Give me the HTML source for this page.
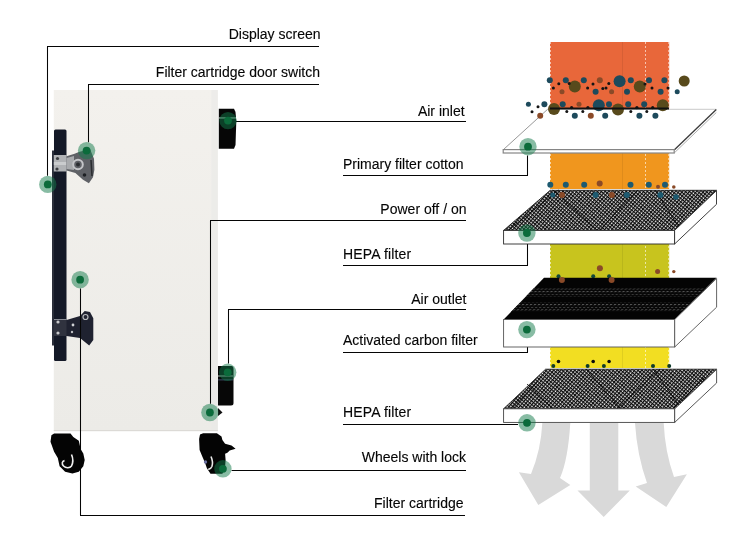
<!DOCTYPE html>
<html><head><meta charset="utf-8">
<style>
html,body{margin:0;padding:0;background:#fff;}
body{width:750px;height:548px;overflow:hidden;position:relative;}
svg{position:absolute;left:0;top:0;will-change:transform;}
text{font-family:"Liberation Sans",sans-serif;font-size:14px;fill:#050505;stroke:#050505;stroke-width:0.12px;}
</style></head><body>
<svg width="750" height="548" viewBox="0 0 750 548">
<defs>
  <pattern id="mesh" patternUnits="userSpaceOnUse" width="2.7" height="2.7" patternTransform="rotate(40)">
    <rect width="2.7" height="2.7" fill="#f4f4f4"/>
    <rect x="0" y="0" width="1.2" height="2.7" fill="#0c0c0c"/>
    <rect x="0" y="0" width="2.7" height="1.2" fill="#0c0c0c"/>
  </pattern>
  <pattern id="carbon" patternUnits="userSpaceOnUse" width="3" height="3">
    <rect width="3" height="3" fill="#030303"/>
    <rect x="0" y="0" width="1" height="1" fill="#2a2a2a"/>
  </pattern>
  <pattern id="dash" patternUnits="userSpaceOnUse" width="4" height="2.6" patternTransform="skewX(-44)">
    <rect width="4" height="2.6" fill="#070707"/>
    <rect x="0" y="0" width="2.2" height="0.9" fill="#555"/>
  </pattern>
  <linearGradient id="cab" x1="0" y1="0" x2="0" y2="1">
    <stop offset="0" stop-color="#f3f1ed"/>
    <stop offset="1" stop-color="#ecebe7"/>
  </linearGradient>
</defs>

<!-- ===== Cabinet ===== -->
<rect x="53.8" y="90" width="164" height="341" fill="url(#cab)"/>
<rect x="211.5" y="90" width="6.3" height="341" fill="#e9e9e8" opacity="0.6"/>
<rect x="53.8" y="430" width="164" height="1.2" fill="#dcdad6"/>
<!-- handle -->
<rect x="52" y="150.5" width="2.5" height="195" fill="#2a2e3a"/>
<rect x="54" y="129.5" width="12.5" height="231.5" rx="1.5" fill="#141927"/>
<!-- top hinge -->
<rect x="53.8" y="155" width="13" height="16.5" fill="#b0b2b5"/>
<rect x="53.8" y="162" width="13" height="3" fill="#d6d7d9" opacity="0.7"/>
<circle cx="57.5" cy="158.5" r="1.6" fill="#3a3c40"/>
<circle cx="57" cy="169" r="1.6" fill="#3a3c40"/>
<path d="M66.5 156.3 L74.6 153.8 L78.8 152 L90 149 L94 158.8 L94.4 169.7 L93 177.3 L88.9 183.2 L83 179.8 L75.4 173.1 L66.5 170.6 Z" fill="#5f6166"/>
<path d="M66.5 158 L74 156 L74 170 L66.5 169 Z" fill="#a8aaad"/>
<circle cx="78" cy="164.5" r="4.8" fill="none" stroke="#c4c5c8" stroke-width="2"/>
<circle cx="78" cy="164.5" r="2" fill="#2a2c30"/>
<circle cx="84.5" cy="175" r="1.8" fill="#1e2024"/>
<path d="M91 160 L92 176" stroke="#2a2c30" stroke-width="1.5"/>
<!-- bottom hinge -->
<rect x="54" y="319" width="13" height="17" fill="#30333f"/>
<rect x="54" y="319" width="13" height="1" fill="#8a8d95"/>
<circle cx="58" cy="322" r="1.6" fill="#c8c9cc"/>
<circle cx="58" cy="333" r="1.6" fill="#c8c9cc"/>
<path d="M66.5 320 L80 316 L84.7 311 L90 312 L93.3 318.2 L93.3 340 L89.2 345.6 L80 338 L66.5 336 Z" fill="#1f2230"/>
<circle cx="85.5" cy="317" r="2.5" fill="none" stroke="#b8babd" stroke-width="1.2"/>
<circle cx="73" cy="325" r="1.4" fill="#d0d2d5"/>
<circle cx="72" cy="332" r="1.2" fill="#c0c2c5"/>
<!-- knobs -->
<path d="M218.8 108.8 L234 108.8 L235.5 112 L236.3 121 L235.5 145 L234 148.7 L218.8 148.7 Z" fill="#060606"/>
<rect x="219" y="117.4" width="17" height="1.1" fill="#cfe8dc" opacity="0.85"/>
<path d="M218 366 h13.5 q2 0 2 3 v34 q0 2.5 -2.5 2.5 h-13 z" fill="#070707"/>
<rect x="218" y="375.5" width="15" height="1" fill="#d8e8e0" opacity="0.8"/>
<rect x="218" y="379.5" width="15" height="0.8" fill="#6070a0" opacity="0.8"/>
<path d="M218 408 L222.5 412.5 L218 416 Z" fill="#111"/>
<!-- wheels -->
<path d="M51.4 435.3 L54.1 433.5 L70.5 433.5 L73.3 437.1 L78.8 440.8 L80.6 449 L83.3 453.5 L84.7 460 L83.3 466.3 L78.8 471.8 L72.4 473.6 L65.1 471.8 L59.6 466.3 L57.8 458.1 L54.1 451.7 L50.5 441.7 Z" fill="#040404"/>
<path d="M71.5 454.5 C73 458 73 463 71.5 466 C70 468 66 468.5 63.5 466 C61.5 464 62 461 64.5 460.6" fill="none" stroke="#f0f0f0" stroke-width="1.6"/>
<path d="M200 434.6 L203.2 433.2 L216.9 433.2 L221.5 436.4 L222.4 440 L225.1 443.7 L231.5 445.5 L235.6 448.7 L229.7 450.5 L227.4 452.8 L225.1 453.7 L225.6 460.1 L225 468 L222.4 473.8 L210.5 473.8 L206.9 468.3 L205 462.8 L202.3 456.5 L199.6 450 L199.1 439.1 Z" fill="#040404"/>
<path d="M211 456.5 C212.5 460 212.8 464 211.9 466.5 C211 468.5 209.5 469.3 208.2 469" fill="none" stroke="#e8e8e8" stroke-width="1.6"/>
<circle cx="205.5" cy="462" r="1.7" fill="#6a70a0"/>

<!-- ===== Leader lines ===== -->
<g stroke="#050505" stroke-width="1.05" fill="none">
  <polyline points="319,46.5 47.5,46.5 47.5,175.8"/>
  <polyline points="319,84.5 88.5,84.5 88.5,142.2"/>
  <polyline points="466,121.5 236,121.5"/>
  <polyline points="343,175.5 527.5,175.5 527.5,155.4"/>
  <polyline points="466,220.5 210.5,220.5 210.5,403.8"/>
  <polyline points="343,265.5 527.5,265.5 527.5,241.7"/>
  <polyline points="466,309.5 228.5,309.5 228.5,363.6"/>
  <polyline points="343,352.5 527.5,352.5 527.5,338.3"/>
  <polyline points="343,424.5 518,424.5"/>
  <polyline points="466,470.5 231.6,470.5"/>
  <polyline points="465,515.5 80.5,515.5 80.5,288.4"/>
</g>
<!-- ===== Labels ===== -->
<g>
  <text x="320.5" y="38.9" text-anchor="end">Display screen</text>
  <text x="320" y="77" text-anchor="end">Filter cartridge door switch</text>
  <text x="464.6" y="116.3" text-anchor="end">Air inlet</text>
  <text x="343" y="169">Primary filter cotton</text>
  <text x="466.5" y="214" text-anchor="end">Power off / on</text>
  <text x="343" y="259" letter-spacing="0.15">HEPA filter</text>
  <text x="466.5" y="304" text-anchor="end">Air outlet</text>
  <text x="343" y="345">Activated carbon filter</text>
  <text x="343" y="417" letter-spacing="0.15">HEPA filter</text>
  <text x="466" y="462" text-anchor="end">Wheels with lock</text>
  <text x="463.5" y="507.8" text-anchor="end">Filter cartridge</text>
</g>

<!-- ===== Filter stack ===== -->
<rect x="550" y="42" width="119.2" height="66.5" fill="#e8673a"/>
<rect x="550" y="153" width="119.2" height="36" fill="#f0961e"/>
<rect x="550" y="244" width="119.2" height="34" fill="#c8c41e"/>
<rect x="550" y="347" width="119.2" height="21" fill="#f2de22"/>
<g stroke="#fff" stroke-width="0.8" stroke-dasharray="2 2" opacity="0.75">
  <line x1="550.5" y1="42" x2="550.5" y2="368"/>
  <line x1="645.5" y1="42" x2="645.5" y2="368"/>
  <line x1="668.7" y1="42" x2="668.7" y2="368"/>
</g>
<line x1="622.5" y1="42" x2="622.5" y2="368" stroke="#000" stroke-width="0.7" opacity="0.1"/>

<!-- plate 1: primary filter -->
<polygon points="503.2,149.5 547.6,109.3 716.3,109.3 674.2,149.5" fill="#fff"/>
<line x1="547.6" y1="109.3" x2="716.3" y2="109.3" stroke="#c4c4c4" stroke-width="0.9"/>
<line x1="503.2" y1="149.8" x2="547.6" y2="109.3" stroke="#8c8c8c" stroke-width="0.9"/>
<line x1="674.2" y1="150" x2="716.3" y2="109.5" stroke="#3a3a3a" stroke-width="1.3"/>
<line x1="674.2" y1="153" x2="716.3" y2="112.5" stroke="#9a9a9a" stroke-width="0.8"/>
<rect x="503.2" y="149.6" width="171" height="3.4" fill="#fff" stroke="#858585" stroke-width="1.2"/>
<!-- particles inlet -->
<g>
  <g fill="#1d4a5c">
    <circle cx="549.8" cy="80.2" r="3"/><circle cx="565.8" cy="80.2" r="3"/><circle cx="583.8" cy="80.2" r="3"/>
    <circle cx="619.6" cy="81.2" r="6"/><circle cx="630.8" cy="80.2" r="3"/><circle cx="649" cy="80.2" r="3"/><circle cx="664.4" cy="80.2" r="3"/>
    <circle cx="595.6" cy="91.8" r="3"/><circle cx="627" cy="91.8" r="3"/><circle cx="660.6" cy="91.8" r="3"/><circle cx="677.2" cy="91.8" r="2.5"/>
    <circle cx="562.7" cy="104.2" r="3"/><circle cx="598.8" cy="105.2" r="6"/><circle cx="609" cy="104.2" r="3"/><circle cx="628.2" cy="104.2" r="3"/><circle cx="644.2" cy="104.2" r="3"/>
    <circle cx="574.8" cy="115.8" r="3"/><circle cx="605.2" cy="115.8" r="3"/><circle cx="639.4" cy="115.8" r="3"/><circle cx="655.4" cy="115.8" r="3"/>
    <circle cx="528.4" cy="104.2" r="2.5"/><circle cx="544.4" cy="104.2" r="3"/>
  </g>
  <g fill="#584a1c">
    <circle cx="684.2" cy="81" r="5.5"/><circle cx="574.8" cy="86.6" r="6"/><circle cx="639.8" cy="86.6" r="6"/>
    <circle cx="554" cy="109" r="6"/><circle cx="618" cy="109.4" r="6"/><circle cx="662.8" cy="105.2" r="6"/>
  </g>
  <g fill="#8a4a28">
    <circle cx="599.8" cy="80.2" r="3"/><circle cx="562" cy="91.8" r="2.5"/><circle cx="611.6" cy="91.8" r="2.5"/>
    <circle cx="579" cy="104.2" r="2.5"/><circle cx="590.8" cy="115.8" r="3"/><circle cx="540.2" cy="115.8" r="3"/>
  </g>
  <g fill="#141414">
    <circle cx="553.4" cy="88" r="1.5"/><circle cx="558.8" cy="83.8" r="1.5"/><circle cx="587.6" cy="88" r="1.5"/><circle cx="593" cy="84" r="1.5"/>
    <circle cx="606" cy="88" r="1.5"/><circle cx="645" cy="84" r="1.5"/><circle cx="652" cy="88" r="1.5"/><circle cx="668" cy="88" r="1.5"/>
    <circle cx="566.8" cy="111.6" r="1.5"/><circle cx="582.8" cy="111.6" r="1.5"/><circle cx="630.8" cy="111.6" r="1.5"/><circle cx="646.8" cy="111.6" r="1.5"/>
    <circle cx="538" cy="106.8" r="1.5"/><circle cx="532" cy="111.7" r="1.5"/><circle cx="571.6" cy="107.6" r="1.6"/><circle cx="587.9" cy="107.6" r="1.6"/><circle cx="636.9" cy="107.6" r="1.6"/><circle cx="652.7" cy="107.6" r="1.6"/><circle cx="569.2" cy="83.6" r="1.5"/><circle cx="608.8" cy="83.6" r="1.5"/><circle cx="602.8" cy="88.4" r="1.5"/>
  </g>
</g>
<line x1="550" y1="108.5" x2="669" y2="108.5" stroke="#111" stroke-width="2"/>

<!-- particles orange -->
<g fill="#1d5a70">
  <circle cx="550.3" cy="184.8" r="3"/><circle cx="565.8" cy="184.8" r="3"/><circle cx="584.2" cy="184.8" r="3"/>
  <circle cx="630.5" cy="184.8" r="3"/><circle cx="648.8" cy="184.8" r="3"/><circle cx="665" cy="184.8" r="3"/>
</g>
<g fill="#8a4a28">
  <circle cx="599.7" cy="183.5" r="3"/><circle cx="658" cy="186.7" r="2"/><circle cx="673.8" cy="187" r="1.8"/>
</g>

<!-- plate 2: HEPA -->
<polygon points="503.6,230.4 550.2,190.3 716.5,190.3 674.6,230.4" fill="url(#mesh)" stroke="#111" stroke-width="0.8"/>
<g stroke="#000" stroke-width="1" opacity="0.75">
  <line x1="552.8" y1="190" x2="596.8" y2="229.9"/><line x1="655.4" y1="190" x2="680.4" y2="229.9"/><line x1="508.8" y1="229.9" x2="558.7" y2="190"/><line x1="599.7" y1="229.9" x2="637.8" y2="190"/>
</g>
<g fill="#1d5a70"><circle cx="552.8" cy="195" r="2.5"/><circle cx="676" cy="197" r="2.8"/><circle cx="595.6" cy="195" r="3"/><circle cx="626.8" cy="195" r="3"/><circle cx="660.4" cy="195" r="3"/></g>
<g fill="#8a4a28"><circle cx="562" cy="195" r="3"/><circle cx="611.9" cy="195" r="3"/></g>
<rect x="503.6" y="230.4" width="171" height="13.6" fill="#fff" stroke="#2a2a2a" stroke-width="0.9"/>
<polygon points="674.6,230.4 716.5,190.6 716.5,204.3 674.6,244" fill="#fff" stroke="#2a2a2a" stroke-width="0.9"/>

<!-- particles yellow-green -->
<g fill="#8a4a28">
  <circle cx="599.9" cy="268.2" r="3"/><circle cx="657.6" cy="271.6" r="2.5"/><circle cx="673.8" cy="271.6" r="1.7"/>
</g>
<g fill="#12483c">
  <circle cx="558.5" cy="276.2" r="2"/><circle cx="593.2" cy="276.2" r="2"/><circle cx="609.1" cy="276.2" r="2"/>
</g>

<!-- plate 3: carbon -->
<polygon points="503.6,319.5 544,277.8 716.6,277.8 674.7,319.5" fill="#040404"/>
<polygon points="534.1,288 706.4,288 697.9,296.4 526,296.4" fill="url(#dash)"/>
<polygon points="520.2,302.4 691.9,302.4 682.2,312 510.9,312" fill="url(#dash)"/>
<g fill="#8a4a28"><circle cx="561.9" cy="279.9" r="3"/><circle cx="611.6" cy="279.9" r="3"/></g>
<rect x="503.6" y="319.5" width="171.1" height="27.5" fill="#fff" stroke="#555" stroke-width="0.9"/>
<polygon points="674.7,319.5 716.6,278.5 716.6,307.2 674.7,347" fill="#fff" stroke="#555" stroke-width="0.9"/>

<!-- particles yellow -->
<g fill="#0c0c0c"><circle cx="558.5" cy="361.5" r="1.8"/><circle cx="593.2" cy="361.5" r="1.8"/><circle cx="609.1" cy="361.5" r="1.8"/></g>
<g fill="#0e3a2a"><circle cx="553.3" cy="366" r="2"/><circle cx="587.6" cy="366" r="2"/><circle cx="603.9" cy="366" r="2"/><circle cx="653" cy="366" r="2"/><circle cx="669.2" cy="366" r="2"/></g>

<!-- plate 4: HEPA -->
<polygon points="503.6,408.8 545.6,369.2 716.6,369.2 674.7,408.8" fill="url(#mesh)" stroke="#111" stroke-width="0.8"/>
<g stroke="#000" stroke-width="1" opacity="0.75">
  <line x1="586" y1="369" x2="621" y2="409"/><line x1="653" y1="369" x2="681.8" y2="409"/><line x1="527" y1="384" x2="553" y2="409"/><line x1="511.7" y1="409" x2="538" y2="381"/><line x1="617" y1="409" x2="660" y2="369"/><line x1="673" y1="409" x2="705" y2="377"/>
</g>
<rect x="503.6" y="408.8" width="171.1" height="13.6" fill="#fff" stroke="#444" stroke-width="0.9"/>
<polygon points="674.7,408.8 716.6,369.4 716.6,383 674.7,422.4" fill="#fff" stroke="#444" stroke-width="0.9"/>

<!-- arrows -->
<g fill="#d9d9d9">
  <path d="M542.3 423 L570.3 423 Q568 460 560 478 L570.3 485 L538.3 505 L518.9 472.3 L531 474 Q541 450 542.3 423 Z"/>
  <path d="M589.8 423 L618.3 423 L618.3 490.5 L629.8 490.5 L603.7 517 L577.5 490.5 L589.8 490.5 Z"/>
  <path d="M635 423 L663.7 423 Q665 452 674 477 L686.9 474.2 L666.3 507 L635.7 486.5 L647 483 Q637 455 635 423 Z"/>
</g>

<!-- ===== Green dots ===== -->
<g fill="rgba(18,122,74,0.5)">
  <circle cx="47.8" cy="184.4" r="8.7"/>
  <circle cx="86.6" cy="150.6" r="8.7"/>
  <circle cx="228" cy="120.6" r="8.7"/>
  <circle cx="80.1" cy="279.7" r="8.7"/>
  <circle cx="227.7" cy="372.3" r="8.7"/>
  <circle cx="209.9" cy="412.5" r="8.7"/>
  <circle cx="222.9" cy="468.8" r="8.7"/>
  <circle cx="528" cy="146.7" r="8.7"/>
  <circle cx="526.9" cy="233" r="8.7"/>
  <circle cx="526.9" cy="329.6" r="8.7"/>
  <circle cx="527" cy="422.8" r="8.7"/>
</g>
<g fill="#0b6b3b">
  <circle cx="47.8" cy="184.4" r="3.9"/>
  <circle cx="86.6" cy="150.6" r="3.9"/>
  <circle cx="228" cy="120.6" r="3.9"/>
  <circle cx="80.1" cy="279.7" r="3.9"/>
  <circle cx="227.7" cy="372.3" r="3.9"/>
  <circle cx="209.9" cy="412.5" r="3.9"/>
  <circle cx="222.9" cy="468.8" r="3.9"/>
  <circle cx="528" cy="146.7" r="3.9"/>
  <circle cx="526.9" cy="233" r="3.9"/>
  <circle cx="526.9" cy="329.6" r="3.9"/>
  <circle cx="527" cy="422.8" r="3.9"/>
</g>
</svg>
</body></html>
